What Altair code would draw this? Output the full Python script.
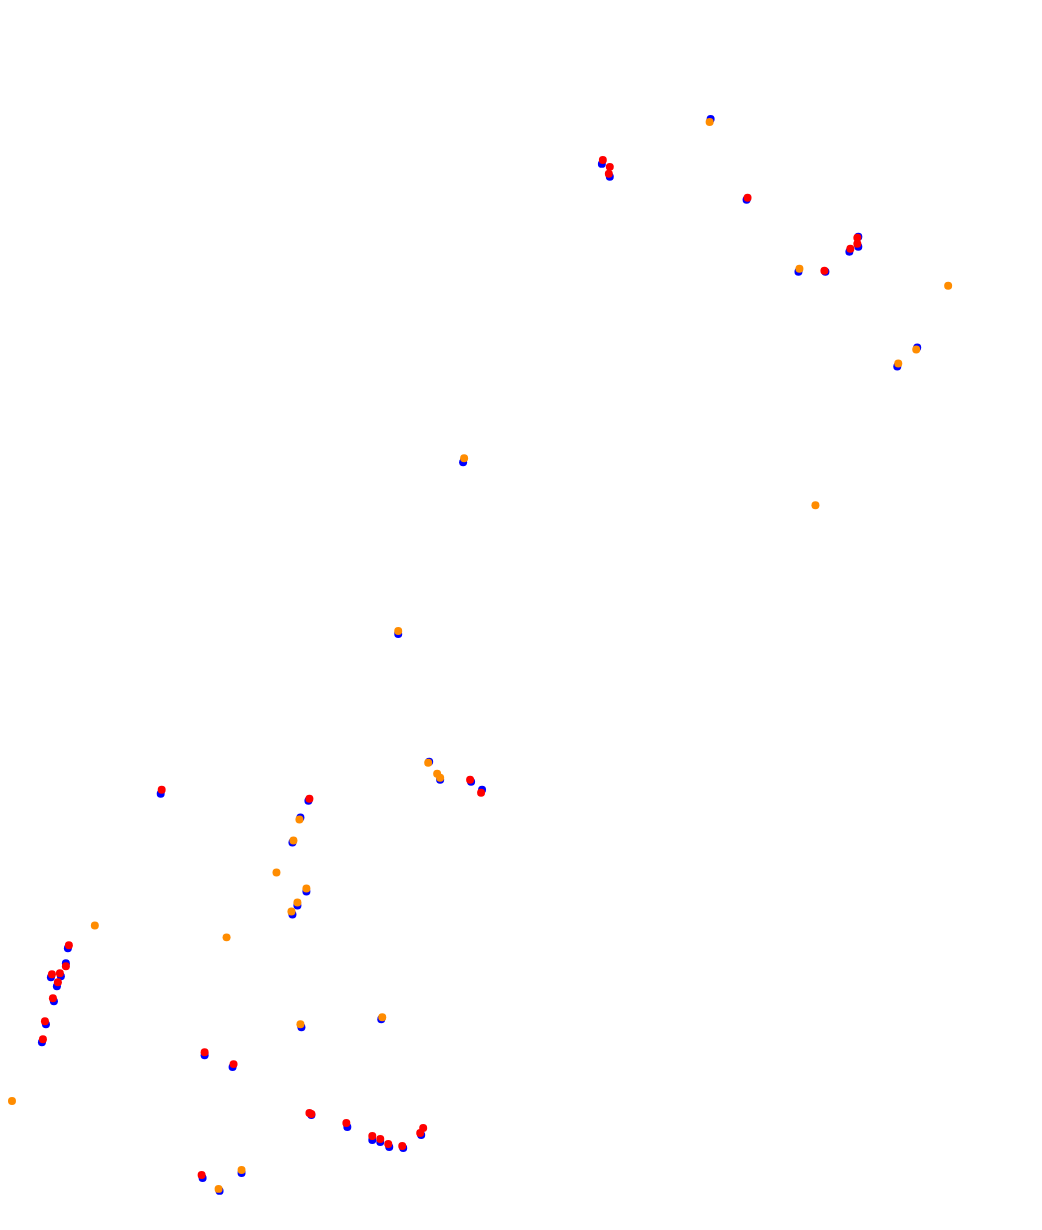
import altair as alt
import pandas as pd

# Blue series (drawn underneath)
blue_x = [710, 601, 609, 746, 858, 858, 849, 798, 825, 917, 897,
          462, 397, 428, 439, 470, 481, 307, 299, 291, 305, 296, 291,
          159, 66, 64, 49, 59, 55, 52, 44, 40,
          203, 231, 310, 346, 371, 379, 388, 402, 420,
          201, 240, 218, 300, 380]
blue_y = [118, 163, 176, 199, 236, 246, 251, 271, 271, 347, 366,
          462, 634, 762, 780, 782, 790, 801, 818, 843, 892, 906, 915,
          794, 949, 964, 978, 977, 987, 1002, 1025, 1043,
          1056, 1068, 1116, 1128, 1141, 1143, 1148, 1149, 1136,
          1179, 1174, 1192, 1028, 1020]

# Red series
red_x = [602, 609, 608, 747, 857, 857, 850, 824,
         469, 480, 308, 160, 67, 64, 50, 58, 56, 51, 43, 41,
         203, 232, 308, 310, 345, 371, 379, 387, 401, 422, 419, 200]
red_y = [159, 166, 173, 197, 237, 243, 248, 270,
         780, 793, 799, 790, 946, 967, 975, 974, 983, 999, 1022, 1040,
         1053, 1065, 1114, 1115, 1124, 1137, 1140, 1145, 1147, 1129, 1134, 1176]

# Orange series (drawn on top)
orange_x = [709, 799, 948, 916, 898, 463, 815, 397, 427, 436, 439,
            298, 292, 275, 305, 296, 290, 93, 225, 299, 381, 10, 240, 217]
orange_y = [121, 268, 285, 349, 363, 458, 505, 631, 763, 774, 778,
            820, 841, 873, 889, 903, 912, 926, 938, 1025, 1018, 1102, 1171, 1190]

rows = []
for s, xs, ys in (("blue", blue_x, blue_y), ("red", red_x, red_y), ("orange", orange_x, orange_y)):
    for x, y in zip(xs, ys):
        rows.append({"series": s, "x": x, "y": y})
df = pd.DataFrame(rows)
df["order"] = range(len(df))

W, H = 1026, 1214

chart = alt.Chart(df).mark_circle(size=64, opacity=1).encode(
    x=alt.X("x:Q", scale=alt.Scale(domain=[8, 8 + W], nice=False, zero=False), axis=None),
    y=alt.Y("y:Q", scale=alt.Scale(domain=[8, 8 + H], nice=False, zero=False, reverse=True), axis=None),
    color=alt.Color("series:N",
                    scale=alt.Scale(domain=["blue", "red", "orange"],
                                    range=["#0000ff", "#ff0000", "#ff8c00"]),
                    legend=None),
    order=alt.Order("order:Q"),
).properties(width=W, height=H, padding=0).configure_view(stroke=None)

chart.save("out.html", embed_options={"renderer": "svg", "actions": False})
